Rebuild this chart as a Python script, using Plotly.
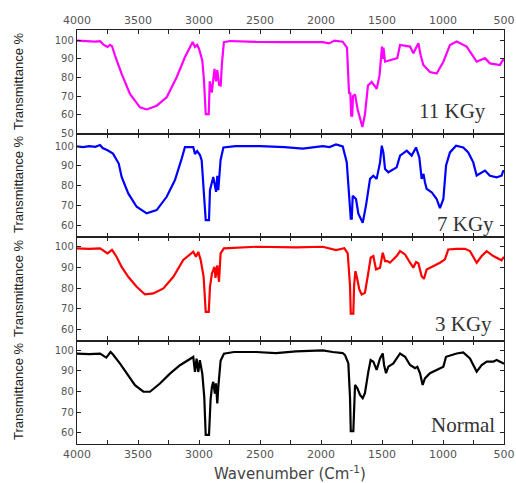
import plotly.graph_objects as go
from plotly.subplots import make_subplots

# ---------------- data ----------------
labels = ["11 KGy", "7 KGy", "3 KGy", "Normal"]
colors = ["#FF00FF", "#0000FF", "#FF0000", "#000000"]

wn_11 = [4000, 3950, 3900, 3850, 3811, 3780, 3750, 3730, 3713, 3689, 3634, 3566, 3484, 3429, 3347,
         3265, 3183, 3115, 3052, 3033, 3015, 3000, 2973, 2959, 2945, 2920, 2912, 2895, 2873, 2860,
         2850, 2835, 2822, 2812, 2796, 2746, 2600, 2533, 2300, 2123, 1986, 1932, 1891, 1822, 1787,
         1770, 1760, 1752, 1744, 1738, 1721, 1700, 1661, 1640, 1615, 1585, 1543, 1520, 1500, 1494,
         1488, 1475, 1430, 1375, 1352, 1300, 1270, 1243, 1202, 1183, 1161, 1107, 1052, 997, 943,
         888, 806, 724, 656, 615, 533, 510, 500]
t_11 = [99.8, 99.5, 99.6, 99.3, 99.5, 97.5, 96.4, 97.5, 96.8, 91.9, 82.0, 71.2, 64.0, 62.9, 64.9,
        69.4, 80.2, 91.0, 99.1, 96.4, 97.5, 95.5, 89.2, 78.4, 60.4, 60.4, 78.0, 72.0, 84.7, 78.0,
        84.0, 76.0, 75.7, 87.6, 99.0, 99.6, 99.3, 99.1, 99.0, 98.8, 99.0, 98.3, 99.8, 99.2, 96.0,
        71.4, 72.0, 59.6, 59.6, 70.0, 71.0, 63.0, 53.5, 60.0, 75.8, 77.7, 74.0, 81.3, 96.6, 90.0,
        96.0, 88.5, 89.5, 90.4, 97.5, 97.0, 96.6, 93.0, 98.4, 92.0, 86.7, 83.0, 82.2, 88.5, 97.5,
        99.3, 96.6, 88.5, 90.4, 87.6, 86.7, 89.4, 89.0]

wn_7 = [4000, 3950, 3900, 3850, 3811, 3790, 3750, 3705, 3658, 3634, 3580, 3511, 3429, 3347, 3265,
        3197, 3142, 3115, 3047, 3033, 3015, 2992, 2978, 2959, 2945, 2918, 2910, 2883, 2860, 2850,
        2842, 2823, 2800, 2700, 2500, 2300, 2150, 1986, 1930, 1877, 1822, 1789, 1767, 1756, 1748,
        1740, 1713, 1694, 1658, 1631, 1598, 1571, 1544, 1516, 1502, 1489, 1475, 1448, 1380, 1352,
        1297, 1257, 1221, 1194, 1175, 1160, 1148, 1134, 1093, 1052, 1025, 997, 975, 943, 893,
        834, 793, 752, 724, 656, 615, 560, 520, 505, 500]
t_7 = [99.8, 99.5, 100.0, 99.6, 100.5, 99.0, 97.9, 96.2, 91.2, 84.5, 76.2, 69.5, 66.2, 67.8, 74.5,
       82.9, 93.7, 99.5, 99.5, 96.0, 97.5, 95.5, 92.8, 77.8, 62.8, 62.8, 77.8, 84.5, 77.0, 85.0,
       77.8, 93.0, 99.3, 100.0, 100.0, 99.5, 98.7, 100.0, 99.5, 100.8, 99.8, 91.9, 75.2, 63.5, 63.5,
       75.0, 73.4, 66.0, 61.5, 70.2, 83.5, 85.1, 83.5, 91.8, 100.2, 96.8, 88.5, 86.8, 89.3, 95.2,
       97.7, 95.2, 99.3, 94.3, 83.5, 86.0, 81.8, 78.5, 76.8, 73.4, 68.8, 73.4, 90.2, 96.8, 100.2,
       99.3, 96.8, 91.8, 85.2, 87.7, 85.1, 84.3, 85.1, 87.7, 87.0]

wn_3 = [4000, 3900, 3811, 3770, 3750, 3713, 3676, 3634, 3580, 3511, 3443, 3374, 3292, 3210, 3129,
        3047, 3025, 3006, 2986, 2962, 2945, 2920, 2910, 2894, 2873, 2865, 2850, 2836, 2823, 2796,
        2533, 2205, 1986, 1877, 1809, 1781, 1762, 1756, 1735, 1729, 1718, 1702, 1686, 1667, 1640,
        1612, 1593, 1571, 1549, 1516, 1494, 1475, 1456, 1435, 1380, 1352, 1311, 1270, 1243, 1221,
        1202, 1175, 1156, 1134, 1080, 1025, 984, 957, 888, 820, 779, 724, 683, 642, 588,
        520, 505, 500]
t_3 = [99.2, 99.0, 99.2, 97.5, 96.8, 98.5, 95.2, 90.3, 85.5, 80.7, 77.0, 77.5, 79.9, 85.5, 93.6,
       97.6, 95.2, 97.5, 93.6, 85.5, 68.6, 68.6, 80.7, 87.1, 90.3, 85.0, 91.0, 83.1, 96.8, 99.2,
       100.0, 99.7, 100.0, 98.4, 99.3, 96.8, 81.0, 67.8, 67.8, 81.0, 88.3, 84.2, 79.4, 77.0, 77.8,
       87.5, 94.7, 95.5, 89.1, 89.9, 97.1, 93.1, 93.1, 92.3, 95.5, 97.9, 96.3, 92.3, 89.9, 92.6,
       92.0, 85.8, 84.5, 89.0, 90.6, 92.3, 93.9, 98.7, 99.0, 99.0, 97.9, 92.3, 95.5, 97.9, 95.5,
       93.5, 94.7, 94.5]

wn_0 = [4000, 3900, 3811, 3760, 3725, 3705, 3647, 3593, 3525, 3456, 3402, 3320, 3238, 3156, 3074,
        3047, 3033, 3020, 3006, 2993, 2973, 2957, 2945, 2918, 2905, 2894, 2883, 2870, 2861, 2850,
        2842, 2823, 2796, 2714, 2533, 2369, 2205, 1986, 1904, 1822, 1803, 1776, 1762, 1756, 1735,
        1729, 1721, 1702, 1680, 1658, 1640, 1612, 1593, 1571, 1544, 1516, 1494, 1483, 1467, 1448,
        1407, 1352, 1311, 1270, 1229, 1210, 1188, 1167, 1148, 1107, 1052, 997, 975, 888, 834,
        779, 724, 683, 642, 588, 560, 505, 500]
t_0 = [98.4, 98.2, 98.4, 96.5, 99.2, 98.0, 93.6, 88.7, 83.1, 79.9, 79.9, 83.9, 88.7, 92.8, 96.0,
       96.8, 89.5, 96.0, 89.5, 95.2, 88.7, 77.4, 58.9, 58.9, 76.0, 82.3, 84.7, 79.0, 84.0, 74.2,
       82.0, 95.0, 98.4, 99.2, 99.2, 98.7, 99.5, 100.0, 99.2, 98.7, 97.7, 93.7, 76.8, 60.7, 60.7,
       76.8, 83.2, 81.6, 78.4, 76.8, 79.2, 89.7, 95.3, 94.5, 90.5, 96.1, 98.5, 92.9, 88.9, 92.1,
       93.7, 98.5, 96.9, 92.9, 91.3, 92.0, 88.9, 83.2, 86.4, 88.9, 90.5, 92.1, 96.9, 98.5, 99.0,
       96.1, 89.7, 92.9, 94.5, 94.5, 95.3, 93.7, 93.5]

x_ticks = [4000, 3500, 3000, 2500, 2000, 1500, 1000, 500]
y_ticks_top = [50, 60, 70, 80, 90, 100]
y_ticks = [60, 70, 80, 90, 100]
y_ranges = [[50, 105.5], [54.3, 106.3], [54.8, 104.7], [54.5, 104.8]]

series = [(wn_11, t_11), (wn_7, t_7), (wn_3, t_3), (wn_0, t_0)]

# ---------------- figure ----------------
W, H = 516, 483
L, R, T, B = 77, 12, 30, 39

fig = make_subplots(rows=4, cols=1, shared_xaxes=True, vertical_spacing=0)

for i, ((wn, tt), c) in enumerate(zip(series, colors)):
    fig.add_trace(go.Scatter(x=wn, y=tt, mode="lines", line=dict(color=c, width=2.2),
                             showlegend=False, hoverinfo="skip"), row=i + 1, col=1)

tickfont = dict(family="DejaVu Sans", size=10, color="#555555")
xtickfont = dict(family="DejaVu Sans", size=11, color="#555555")

for i in range(4):
    r = i + 1
    fig.update_xaxes(row=r, col=1, range=[4000, 500], tickvals=x_ticks, automargin=False,
                     showline=True, linecolor="#222222", linewidth=1.3, mirror="ticks",
                     ticks="inside", ticklen=4, tickcolor="#222222",
                     minor=dict(dtick=250, ticks="inside", ticklen=4, tickcolor="#222222"),
                     showgrid=False, zeroline=False, tickfont=xtickfont,
                     showticklabels=(r == 1 or r == 4),
                     side="top" if r == 1 else "bottom")
    fig.update_yaxes(row=r, col=1, range=y_ranges[i], automargin=False,
                     tickvals=y_ticks_top if r == 1 else y_ticks,
                     showline=True, linecolor="#222222", linewidth=1.3, mirror="ticks",
                     ticks="inside", ticklen=4, tickcolor="#222222",
                     showgrid=False, zeroline=False, tickfont=tickfont)

annotations = []
plot_h = H - T - B
plot_w = W - L - R


def px_to_paper(px, py):
    return (px - L) / plot_w, (H - B - py) / plot_h


# y titles
for cy in [82, 185, 289, 392]:
    xp, yp = px_to_paper(18, cy)
    annotations.append(dict(x=xp, y=yp, xref="paper", yref="paper", text="Transmittance %",
                            textangle=-90, showarrow=False, xanchor="center", yanchor="middle",
                            font=dict(family="Liberation Sans", size=13, color="#222222")))

# panel labels
label_pos = [(488, 111), (496, 224), (494, 324), (497, 425)]
for lab, (px, py) in zip(labels, label_pos):
    xp, yp = px_to_paper(px, py)
    annotations.append(dict(x=xp, y=yp, xref="paper", yref="paper", text=lab, showarrow=False,
                            xanchor="right", yanchor="middle",
                            font=dict(family="Liberation Serif", size=21, color="#333333")))

# x title
xp, yp = px_to_paper(290, 473)
annotations.append(dict(x=xp, y=yp, xref="paper", yref="paper",
                        text="Wavenumber (Cm<sup>-1</sup>)", showarrow=False,
                        xanchor="center", yanchor="middle",
                        font=dict(family="DejaVu Sans", size=15, color="#444444")))

fig.update_layout(width=W, height=H, margin=dict(l=L, r=R, t=T, b=B, autoexpand=False),
                  plot_bgcolor="white", paper_bgcolor="white",
                  annotations=annotations, showlegend=False)

fig.write_html("out.html", config={"displayModeBar": False},
               post_script="document.body.style.margin='0px';document.body.style.overflow='hidden';")
